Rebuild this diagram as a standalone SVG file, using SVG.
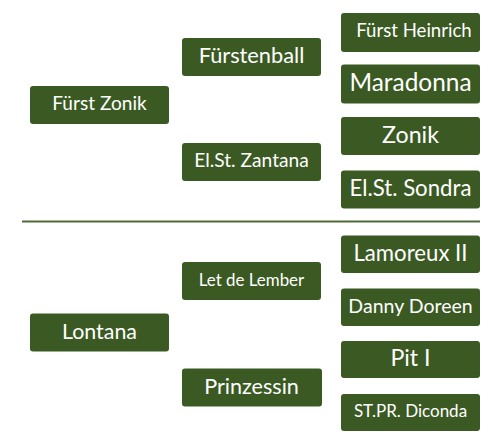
<svg xmlns="http://www.w3.org/2000/svg" width="493" height="443" viewBox="0 0 493 443">
<style>
.box{fill:#3b5a23;}
.t{fill:#ffffff;font-family:Lato,"Liberation Sans",sans-serif;text-anchor:middle;}
.sep{stroke:#4d6a38;stroke-width:2;fill:none;}
</style>
<rect width="493" height="443" fill="#ffffff"/>
<g id="connectors">
<line class="sep" x1="22" y1="221.5" x2="480" y2="221.5"/>
</g>
<g id="fuerst-zonik"><rect class="box" x="30" y="86" width="139" height="38" rx="3"/><text class="t" x="99.5" y="110.4" font-size="19.1">Fürst Zonik</text></g>
<g id="fuerstenball"><rect class="box" x="182" y="38" width="139" height="38" rx="3"/><text class="t" x="251.5" y="63.3" font-size="21.8">Fürstenball</text></g>
<g id="elst-zantana"><rect class="box" x="182" y="143" width="139" height="38" rx="3"/><text class="t" x="251.5" y="167.4" font-size="19.2">El.St. Zantana</text></g>
<g id="fuerst-heinrich"><rect class="box" x="341" y="13" width="139" height="39" rx="3"/><text class="t" x="414" y="37.2" font-size="18.6">Fürst Heinrich</text></g>
<g id="maradonna"><rect class="box" x="341" y="64.5" width="139" height="39" rx="3"/><text class="t" x="410.5" y="91.2" font-size="24.4">Maradonna</text></g>
<g id="zonik"><rect class="box" x="341" y="117" width="139" height="38" rx="3"/><text class="t" x="410.5" y="142.9" font-size="23.2">Zonik</text></g>
<g id="elst-sondra"><rect class="box" x="341" y="170.5" width="139" height="38" rx="3"/><text class="t" x="410.5" y="196" font-size="22.2">El.St. Sondra</text></g>
<g id="lontana"><rect class="box" x="30" y="313.5" width="139" height="38" rx="3"/><text class="t" x="99.5" y="338.8" font-size="21.4">Lontana</text></g>
<g id="let-de-lember"><rect class="box" x="182" y="262" width="139" height="38" rx="3"/><text class="t" x="251.5" y="285.6" font-size="16.9">Let de Lember</text></g>
<g id="prinzessin"><rect class="box" x="182" y="368.5" width="140" height="38" rx="3"/><text class="t" x="251.5" y="393.8" font-size="21.6">Prinzessin</text></g>
<g id="lamoreux-ii"><rect class="box" x="341" y="235.5" width="139" height="37.5" rx="3"/><text class="t" x="410.5" y="260.5" font-size="22.2">Lamoreux II</text></g>
<g id="danny-doreen"><rect class="box" x="341" y="288.5" width="139" height="37.5" rx="3"/><text class="t" x="410.5" y="312.5" font-size="19.5">Danny Doreen</text></g>
<g id="pit-i"><rect class="box" x="341" y="341" width="139" height="37" rx="3"/><text class="t" x="410.5" y="366.4" font-size="23.2">Pit I</text></g>
<g id="stpr-diconda"><rect class="box" x="341" y="394" width="139" height="37" rx="3"/><text class="t" x="410.5" y="417.2" font-size="17">ST.PR. Diconda</text></g>
</svg>
